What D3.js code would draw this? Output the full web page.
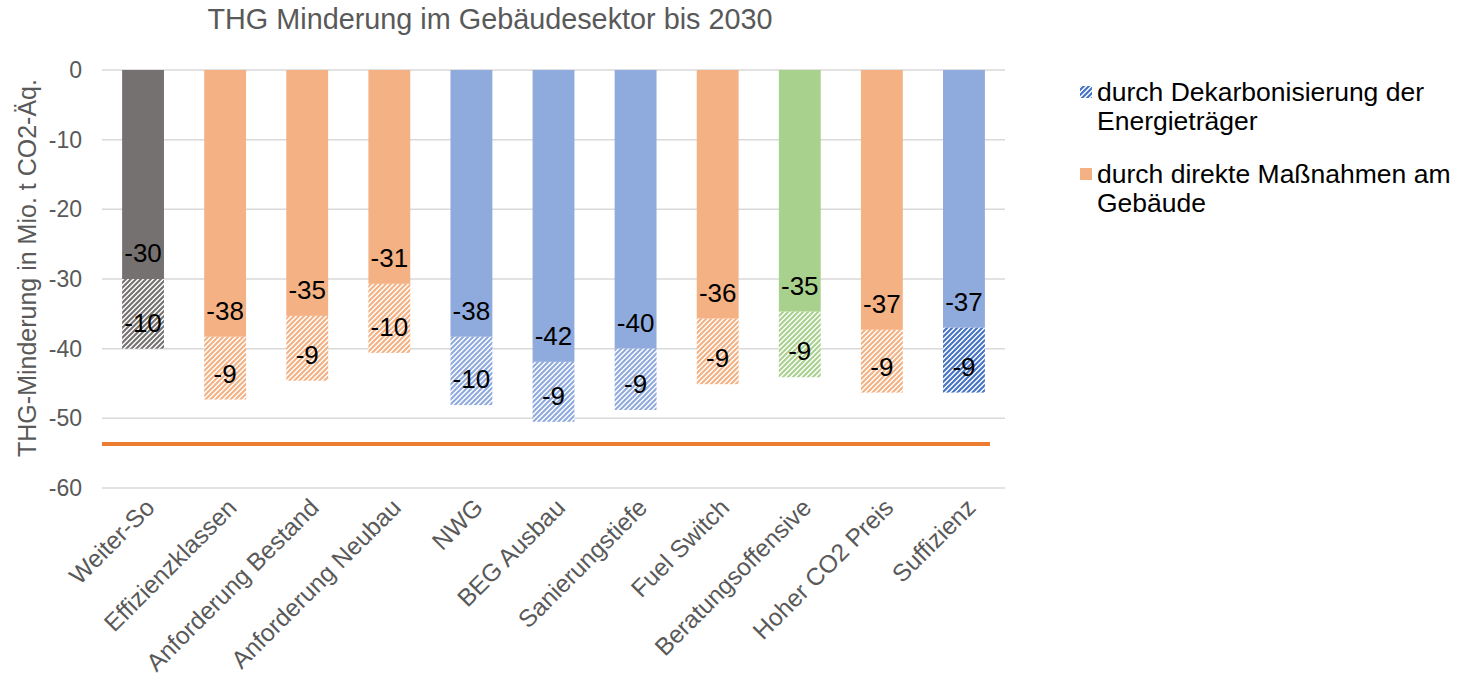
<!DOCTYPE html>
<html><head><meta charset="utf-8">
<script src="https://cdn.jsdelivr.net/npm/d3@7"></script>
<style>body{margin:0;background:#fff;font-family:Arial,"Liberation Sans",sans-serif}</style>
</head><body><svg id="c" width="1461" height="681"></svg>
<script>
const categories = ["Weiter-So","Effizienzklassen","Anforderung Bestand","Anforderung Neubau","NWG","BEG Ausbau","Sanierungstiefe","Fuel Switch","Beratungsoffensive","Hoher CO2 Preis","Suffizienz"];
const direct = [-30,-38.3,-35.3,-30.7,-38.3,-41.9,-40.0,-35.7,-34.7,-37.3,-37.0];
const decarb = [-10,-9.0,-9.3,-9.9,-9.8,-8.6,-8.8,-9.4,-9.4,-9.0,-9.3];
const solidColors = ["#767171","#F4B183","#F4B183","#F4B183","#8FAADC","#8FAADC","#8FAADC","#F4B183","#A9D18E","#F4B183","#8FAADC"];
const hatchColors = ["#767171","#F4B183","#F4B183","#F4B183","#8FAADC","#8FAADC","#8FAADC","#F4B183","#A9D18E","#F4B183","#4472C4"];
const target = -53.7;
const yTicks = [0,-10,-20,-30,-40,-50,-60];
const legendLabels = [["durch Dekarbonisierung der","Energieträger"],["durch direkte Maßnahmen am","Gebäude"]];
const title = "THG Minderung im Gebäudesektor bis 2030";
const yTitle = "THG-Minderung in Mio. t CO2-Äq.";

const svg = d3.select("#c");
const x = d3.scaleBand().domain(categories).range([102,1005]).paddingInner(0.49).paddingOuter(0.245);
const y = d3.scaleLinear().domain([-60,0]).range([488,70]);
const defs = svg.append("defs");
const uniq = Array.from(new Set(hatchColors));
const P = 5;
uniq.forEach(c=>{
  const p = defs.append("pattern").attr("id","h"+c.slice(1)).attr("patternUnits","userSpaceOnUse").attr("width",P).attr("height",P);
  p.append("rect").attr("width",P).attr("height",P).attr("fill","#fff");
  p.append("path").attr("d",`M-1,1 L1,-1 M0,${P} L${P},0 M${P-1},${P+1} L${P+1},${P-1}`).attr("stroke",c).attr("stroke-width",2.1);
});

// grid
svg.append("g").selectAll("line").data(yTicks).join("line")
  .attr("x1",102).attr("x2",1005).attr("y1",d=>y(d)).attr("y2",d=>y(d))
  .attr("stroke","#d9d9d9").attr("stroke-width",1.5);
svg.append("g").selectAll("text").data(yTicks).join("text")
  .attr("x",82).attr("y",d=>y(d)).attr("dy","0.35em").attr("text-anchor","end")
  .attr("font-size",23).attr("fill","#595959").text(d=>d);

// bars
const g = svg.append("g");
categories.forEach((c,i)=>{
  const x0 = x(c), w = x.bandwidth();
  g.append("rect").attr("x",x0).attr("width",w).attr("y",y(0)).attr("height",y(direct[i])-y(0)).attr("fill",solidColors[i]);
  const tot = direct[i]+decarb[i];
  g.append("rect").attr("x",x0).attr("width",w).attr("y",y(direct[i])).attr("height",y(tot)-y(direct[i])).attr("fill","url(#h"+hatchColors[i].slice(1)+")");
  g.append("text").attr("x",x0+w/2).attr("y",y(direct[i])-26).attr("dy","0.35em").attr("text-anchor","middle").attr("font-size",26).attr("fill","#000").text(Math.round(direct[i]));
  g.append("text").attr("x",x0+w/2).attr("y",y(tot)-26).attr("dy","0.35em").attr("text-anchor","middle").attr("font-size",26).attr("fill","#000").text(Math.round(decarb[i]));
});

// target line
svg.append("line").attr("x1",102).attr("x2",990).attr("y1",y(target)).attr("y2",y(target)).attr("stroke","#ED7D31").attr("stroke-width",4);

// x labels
svg.append("g").selectAll("text").data(categories).join("text")
  .attr("transform",d=>`translate(${x(d)+x.bandwidth()/2+1},${497}) rotate(-45)`)
  .attr("text-anchor","end").attr("dy","0.7em").attr("font-size",24.5).attr("fill","#595959").text(d=>d);

// title
svg.append("text").attr("x",490).attr("y",29).attr("text-anchor","middle").attr("font-size",28.8).attr("fill","#595959").text(title);
svg.append("text").attr("transform","translate(27,268) rotate(-90)").attr("text-anchor","middle").attr("dy","0.35em").attr("font-size",25).attr("fill","#595959").text(yTitle);

// legend
const lg = svg.append("g");
const legendFills = ["url(#h4472C4)","#F4B183"];
legendLabels.forEach((lines,i)=>{
  const yy = 92 + i*82;
  lg.append("rect").attr("x",1080).attr("y",yy-6).attr("width",12).attr("height",12).attr("fill",legendFills[i]);
  lines.forEach((t,j)=>lg.append("text").attr("x",1097).attr("y",yy+j*29).attr("dy","0.35em").attr("font-size",26.5).attr("fill","#000").text(t));
});
</script></body></html>
